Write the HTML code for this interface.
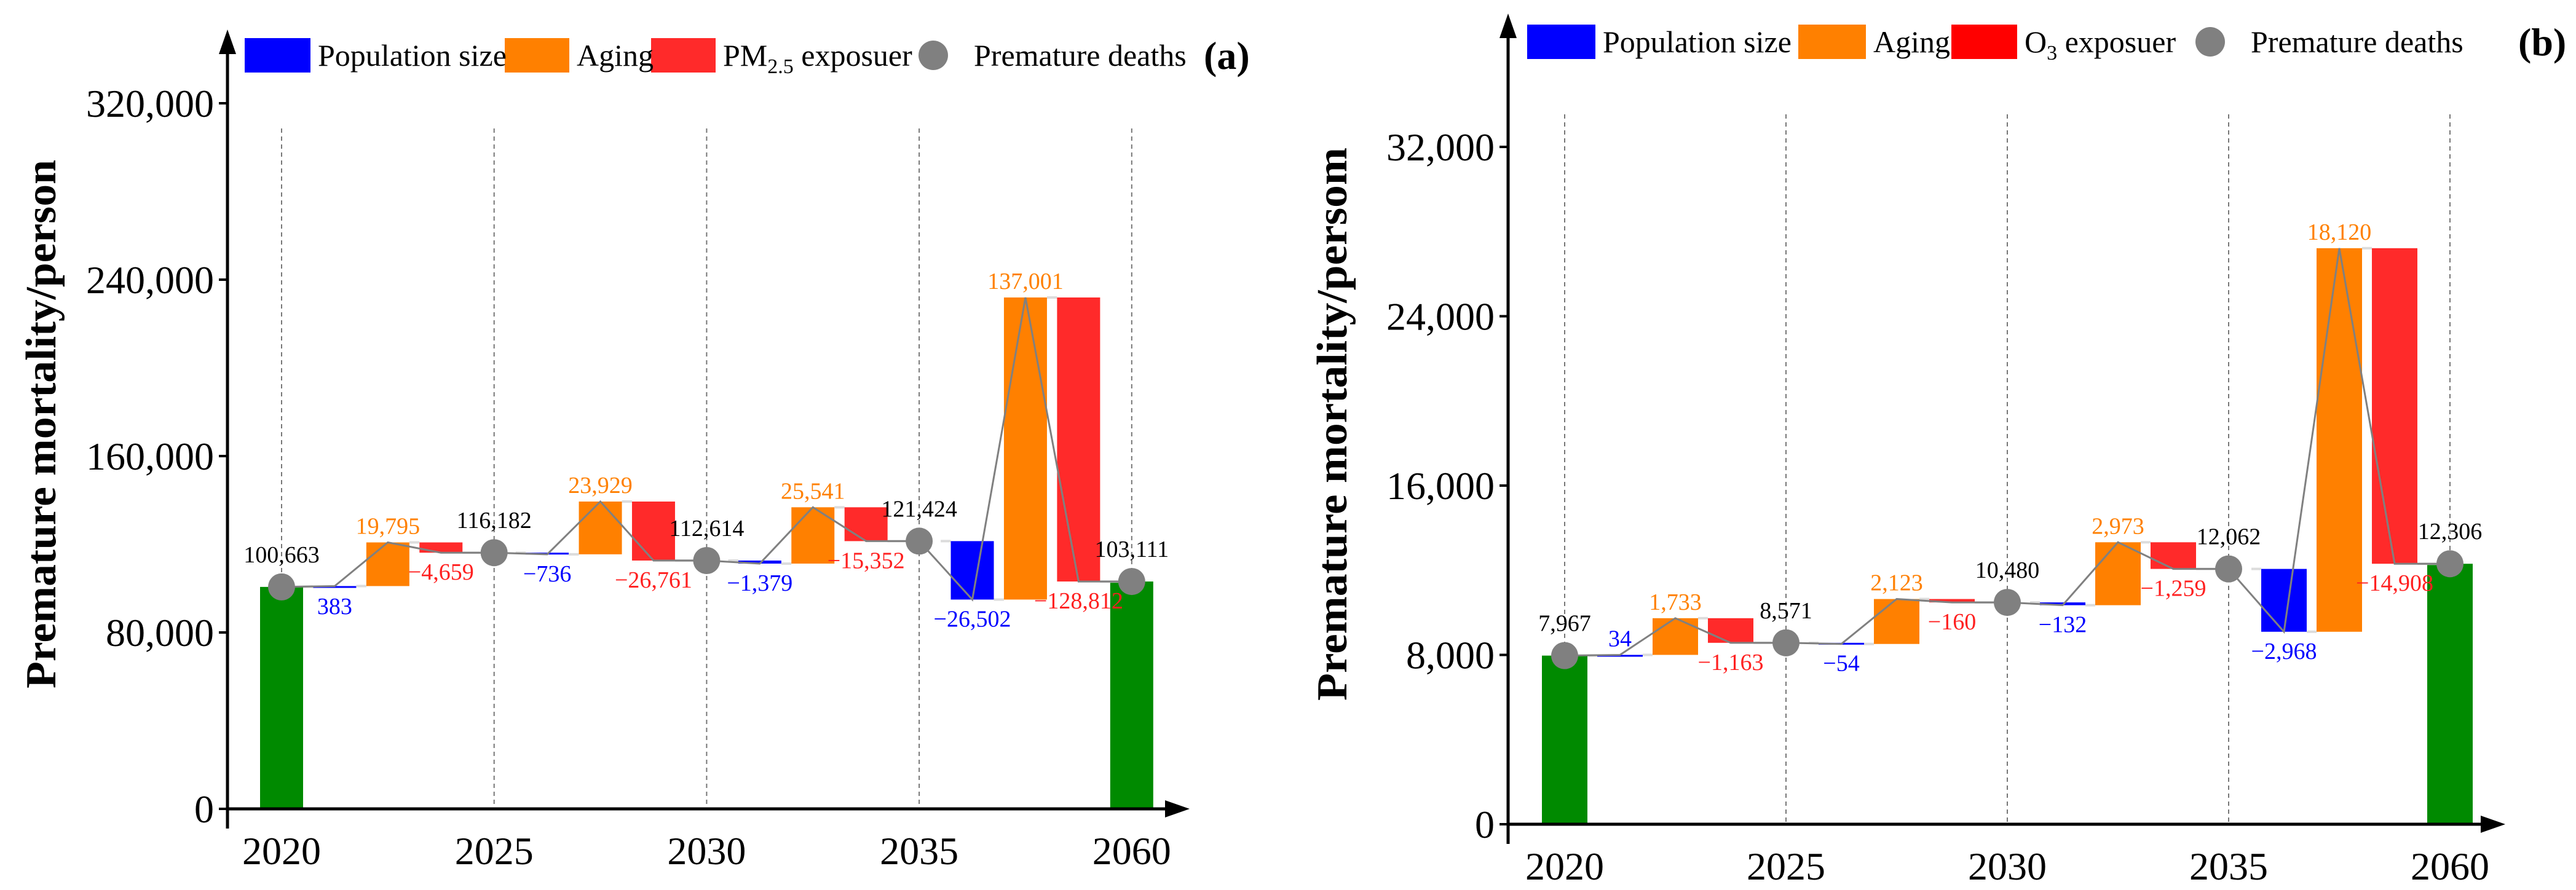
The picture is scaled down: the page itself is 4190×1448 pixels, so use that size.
<!DOCTYPE html>
<html><head><meta charset="utf-8">
<style>
html,body{margin:0;padding:0;background:#fff;}
svg{display:block;font-family:"Liberation Serif",serif;}
</style></head>
<body>
<svg id="chart" width="4190" height="1448" viewBox="0 0 4190 1448" xmlns="http://www.w3.org/2000/svg"></svg>
<script>
// ---- Data (panel a: PM2.5) ----
const catsA = ["2020","2025","2030","2035","2060"];
const startA = 100663;
const popA = [383, -736, -1379, -26502];
const agingA = [19795, 23929, 25541, 137001];
const expA = [-4659, -26761, -15352, -128812];
const deathsA = [100663, 116182, 112614, 121424, 103111];
const ticksA = [0, 80000, 160000, 240000, 320000];
// ---- Data (panel b: O3) ----
const catsB = ["2020","2025","2030","2035","2060"];
const startB = 7967;
const popB = [34, -54, -132, -2968];
const agingB = [1733, 2123, 2973, 18120];
const expB = [-1163, -160, -1259, -14908];
const deathsB = [7967, 8571, 10480, 12062, 12306];
const ticksB = [0, 8000, 16000, 24000, 32000];

const svg = document.getElementById('chart');
const NS = "http://www.w3.org/2000/svg";
function mk(tag, attrs, parent){
  const e = document.createElementNS(NS, tag);
  for (const k in attrs) e.setAttribute(k, attrs[k]);
  (parent||svg).appendChild(e);
  return e;
}
function fmt(v){ const s = Math.abs(v).toLocaleString('en-US'); return (v<0?'\u2212':'')+s; }

function drawPanel(P){
  const g = mk('g', {});
  
  
  const y = v => P.y0 - (v / P.tickStep) * P.tickPx;
  const x = i => P.x0 + i * P.sp;
  // dashed gridlines
  P.cats.forEach((c,i)=>{
    const l = mk('line',{x1:x(i),x2:x(i),y1:P.dashTop,y2:P.y0,stroke:'#777','stroke-width':2,'stroke-dasharray':'7,6'},g);
    
    
  });
  const bw = P.bw;
  // end bars
  [[0,P.deaths[0]],[P.cats.length-1,P.deaths[P.deaths.length-1]]].forEach(([i,v])=>{
    const r = mk('rect',{x:x(i)-bw/2,y:y(v),width:bw,height:P.y0-y(v),fill:'#008a00'},g);
    
    
  });
  // waterfall
  let level = P.start;
  const pts = [[x(0), y(level)]];
  let prevRight = x(0)+bw/2;
  for (let s=0; s<P.pop.length; s++){
    const parts = [[P.pop[s],'#0000ff','#0000ff','pop'],[P.aging[s],'#ff8000','#ff8000','aging'],[P.exp[s],'#ff2a2a','#ff2020','exposure']];
    parts.forEach(([d,col,tcol,kind],k)=>{
      const cx = x(s) + P.sp*(k+1)/4;
      const a = level, b = level + d;
      const top = y(Math.max(a,b)), bot = y(Math.min(a,b));
      const con = mk('line',{x1:prevRight,x2:cx-bw/2,y1:y(a),y2:y(a),stroke:'#dcdcdc','stroke-width':4},g);
      
      
      const r = mk('rect',{x:cx-bw/2,y:top,width:bw,height:Math.max(bot-top,3),fill:col},g);
      
      
      let ly;
      if (d>=0 && (kind!=='pop' || P.popAbove)) ly = top - 14; else ly = bot + 44;
      const t = mk('text',{x:cx,y:ly,'text-anchor':'middle','font-size':38,fill:tcol},g);
      t.textContent = fmt(d);
      
      
      level = b;
      pts.push([cx, y(level)]);
      prevRight = cx+bw/2;
    });
    const dx = x(s+1);
    const con = mk('line',{x1:prevRight,x2:dx,y1:y(level),y2:y(level),stroke:'#dcdcdc','stroke-width':4},g);
    
    
    pts.push([dx, y(P.deaths[s+1])]);
    prevRight = dx+bw/2;
  }
  const pl = mk('polyline',{points:pts.map(p=>p.join(',')).join(' '),fill:'none',stroke:'#808080','stroke-width':3},g);
  
  
  P.deaths.forEach((v,i)=>{
    const c = mk('circle',{cx:x(i),cy:y(v),r:22,fill:'#808080'},g);
    
    
    const t = mk('text',{x:x(i),y:y(v)-40,'text-anchor':'middle','font-size':38,fill:'#000'},g);
    t.textContent = fmt(v);
    
    
  });
  // axes
  const ya = mk('line',{x1:P.ax,x2:P.ax,y1:P.axTop+30,y2:P.y0+32,stroke:'#000','stroke-width':5},g);
  
  
  const yar = mk('polygon',{points:`${P.ax-14},${P.axTop+40} ${P.ax+14},${P.axTop+40} ${P.ax},${P.axTop}`,fill:'#000'},g);
  
  
  const xa = mk('line',{x1:P.ax,x2:P.axRight-30,y1:P.y0,y2:P.y0,stroke:'#000','stroke-width':5},g);
  
  
  const xar = mk('polygon',{points:`${P.axRight-40},${P.y0-14} ${P.axRight-40},${P.y0+14} ${P.axRight},${P.y0}`,fill:'#000'},g);
  
  
  P.ticks.forEach(v=>{
    const tl = mk('line',{x1:P.ax-14,x2:P.ax,y1:y(v),y2:y(v),stroke:'#000','stroke-width':4},g);
    
    
    const t = mk('text',{x:P.ax-22,y:y(v)+22,'text-anchor':'end','font-size':64,fill:'#000'},g);
    t.textContent = v.toLocaleString('en-US');
    
    
  });
  P.cats.forEach((c,i)=>{
    const t = mk('text',{x:x(i),y:P.y0+90,'text-anchor':'middle','font-size':64,fill:'#000'},g);
    t.textContent = c;
    
    
  });
  const yt = mk('text',{x:0,y:0,transform:`translate(${P.titleX},${P.titleY}) rotate(-90)`,'text-anchor':'middle','font-size':70,'font-weight':'bold',fill:'#000',textLength:P.titleLen,lengthAdjust:'spacingAndGlyphs'},g);
  yt.textContent = P.title;
  
  
  // legend
  const L = P.leg, ly = L.y;
  const items = [['rect','#0000ff',L.b,'Population size','legend-population-size'],['rect','#ff8000',L.o,'Aging','legend-aging'],['rect',L.redCol,L.r,null,'legend-exposure']];
  items.forEach(([_,col,pos,label,nm])=>{
    const r = mk('rect',{x:pos[0],y:ly-28,width:pos[1]-pos[0],height:56,fill:col},g);
    
    
  });
  function lt(xp, html, nm){
    const t = mk('text',{x:xp,y:ly+17,'font-size':50,fill:'#000'},g);
    t.innerHTML = html;
    
    
    return t;
  }
  lt(L.b[1]+12,'Population size','legend-population-size-label');
  lt(L.o[1]+12,'Aging','legend-aging-label');
  lt(L.r[1]+12,L.expHtml,'legend-exposure-label');
  const dot = mk('circle',{cx:L.dot,cy:ly,r:24,fill:'#808080'},g);
  
  
  lt(L.dot+66,'Premature deaths','legend-premature-deaths-label');
  const pt = mk('text',{x:L.tag,y:ly+22,'font-size':64,'font-weight':'bold',fill:'#000'},g);
  pt.textContent = P.tag;
  
  
}

drawPanel({name:'panel-a-pm25', cats:catsA, start:startA, pop:popA, aging:agingA, exp:expA, deaths:deathsA, ticks:ticksA,
  tickStep:80000, tickPx:287, y0:1316, x0:458, sp:345.7, bw:70, ax:370, axTop:48, axRight:1935, dashTop:209,
  popAbove:false, title:'Premature mortality/person', titleX:90, titleY:690, titleLen:860, tag:'(a)',
  leg:{y:90, b:[398,505], o:[821,926], r:[1059,1164], redCol:'#ff2a2a', expHtml:'PM<tspan font-size="34" dy="12">2.5</tspan><tspan dy="-12"> exposuer</tspan>', dot:1518, tag:1958}});

drawPanel({name:'panel-b-o3', cats:catsB, start:startB, pop:popB, aging:agingB, exp:expB, deaths:deathsB, ticks:ticksB,
  tickStep:8000, tickPx:275.5, y0:1341, x0:2545, sp:360, bw:74, ax:2453, axTop:22, axRight:4075, dashTop:186,
  popAbove:true, title:'Premature mortality/persom', titleX:2190, titleY:690, titleLen:900, tag:'(b)',
  leg:{y:68, b:[2484,2595], o:[2925,3035], r:[3174,3281], redCol:'#ff0000', expHtml:'O<tspan font-size="34" dy="12">3</tspan><tspan dy="-12"> exposuer</tspan>', dot:3595, tag:4096}});
</script>
</body></html>
